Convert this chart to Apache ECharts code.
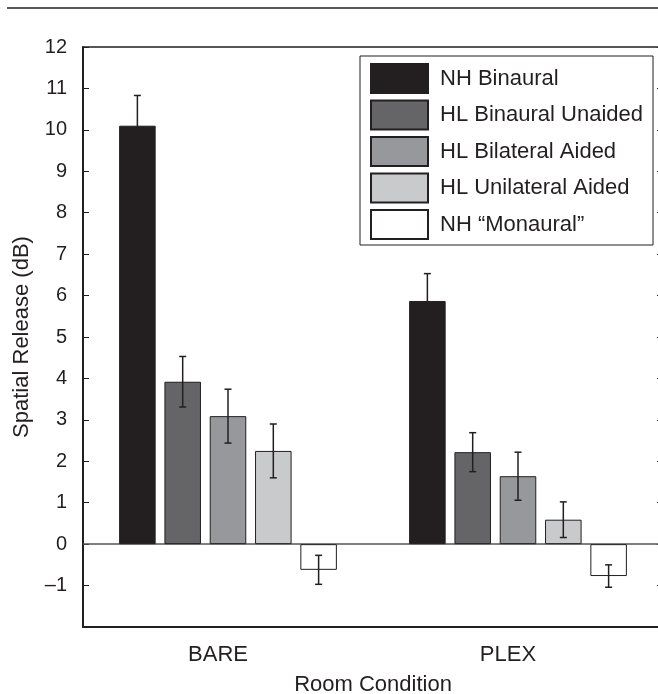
<!DOCTYPE html>
<html lang="en">
<head>
    <meta charset="UTF-8">
    <title>Spatial Release by Room Condition</title>
    <style>
        body {
            margin: 0;
            background-color: #fff;
        }
        #container {
            width: 658px;
            height: 694px;
        }
    </style>
    <script src="https://cdn.jsdelivr.net/npm/echarts@6.0.0/dist/echarts.min.js"></script>
</head>
<body>
    <div id="container"></div>
    <script>
        // data
        var rooms = ['BARE', 'PLEX'];
        var groupNames = ['NH Binaural', 'HL Binaural Unaided', 'HL Bilateral Aided', 'HL Unilateral Aided', 'NH \u201cMonaural\u201d'];
        var groupColors = ['#231f20', '#656567', '#97989b', '#c9cacc', '#ffffff'];
        var nhBinaural = [10.1, 5.87];
        var hlBinauralUnaided = [3.92, 2.22];
        var hlBilateralAided = [3.09, 1.64];
        var hlUnilateralAided = [2.25, 0.59];
        var nhMonaural = [-0.62, -0.77];
        var errNhBinaural = [0.73, 0.66];
        var errHlBinauralUnaided = [0.61, 0.47];
        var errHlBilateralAided = [0.65, 0.58];
        var errHlUnilateralAided = [0.65, 0.43];
        var errNhMonaural = [0.35, 0.27];
        var yTicks = [-2, 12, 1]; // min, max, step

        var means = [nhBinaural, hlBinauralUnaided, hlBilateralAided, hlUnilateralAided, nhMonaural];
        var errs = [errNhBinaural, errHlBinauralUnaided, errHlBilateralAided, errHlUnilateralAided, errNhMonaural];

        var barFrac = 0.126;   // bar width as part of a category band
        var gapFrac = 0.24;    // gap between bars as part of bar width
        var ink = '#231f20';
        var fontFam = '"Liberation Sans", Arial, Helvetica, sans-serif';

        var chart = echarts.init(document.getElementById('container'));

        var series = [];
        means.forEach(function (vals, i) {
            var s = {
                name: groupNames[i],
                type: 'bar',
                data: vals,
                barWidth: (barFrac * 100) + '%',
                barGap: (gapFrac * 100) + '%',
                itemStyle: { color: groupColors[i], borderColor: ink, borderWidth: 1 },
                emphasis: { disabled: true },
                z: 2
            };
            if (i === 0) {
                s.markLine = {
                    silent: true,
                    symbol: 'none',
                    label: { show: false },
                    lineStyle: { color: '#555', width: 1.5, type: 'solid' },
                    data: [{ yAxis: 0 }],
                    z: 1
                };
            }
            series.push(s);
        });

        // error bars
        means.forEach(function (vals, i) {
            var data = vals.map(function (v, k) { return [k, v - errs[i][k], v + errs[i][k]]; });
            series.push({
                type: 'custom',
                silent: true,
                z: 5,
                data: data,
                renderItem: function (params, api) {
                    var band = api.size([1, 0])[0];
                    var step = band * barFrac * (1 + gapFrac);
                    var lo = api.coord([api.value(0), api.value(1)]);
                    var hi = api.coord([api.value(0), api.value(2)]);
                    var x = lo[0] + (i - 2) * step;
                    var cap = 3.5;
                    var st = { stroke: ink, lineWidth: 1.5 };
                    return {
                        type: 'group',
                        children: [
                            { type: 'line', shape: { x1: x, y1: lo[1], x2: x, y2: hi[1] }, style: st },
                            { type: 'line', shape: { x1: x - cap, y1: lo[1], x2: x + cap, y2: lo[1] }, style: st },
                            { type: 'line', shape: { x1: x - cap, y1: hi[1], x2: x + cap, y2: hi[1] }, style: st }
                        ]
                    };
                }
            });
        });

        var option = {
            backgroundColor: '#fff',
            animation: false,
            textStyle: { fontFamily: fontFam, color: ink },
            grid: { left: 83, top: 47, width: 580, height: 580, outerBoundsMode: 'none', containLabel: false },
            legend: {
                data: groupNames,
                orient: 'vertical',
                left: 360,
                top: 56,
                padding: [7, 10, 5, 10],
                itemWidth: 57,
                itemHeight: 29,
                itemGap: 5.5,
                borderColor: ink,
                borderWidth: 1,
                backgroundColor: '#fff',
                icon: 'rect',
                selectedMode: false,
                textStyle: { fontSize: 22, lineHeight: 24, color: ink, fontFamily: fontFam, padding: [0, 0, 0, 7] }
            },
            xAxis: [
                {
                    type: 'category',
                    data: rooms,
                    position: 'bottom',
                    name: 'Room Condition',
                    nameLocation: 'middle',
                    nameGap: 47,
                    nameTextStyle: { fontSize: 22, color: ink },
                    axisLine: { onZero: false, lineStyle: { color: ink, width: 2 } },
                    axisTick: { inside: true, length: 6, alignWithLabel: true, lineStyle: { color: ink, width: 1 } },
                    axisLabel: { fontSize: 22, color: ink, margin: 17, padding: [0, 20, 0, 0] }
                },
                {
                    type: 'category',
                    data: rooms,
                    position: 'top',
                    axisLine: { onZero: false, lineStyle: { color: ink, width: 1.5 } },
                    axisTick: { inside: true, length: 6, alignWithLabel: true, lineStyle: { color: ink, width: 1 } },
                    axisLabel: { show: false }
                }
            ],
            yAxis: [
                {
                    type: 'value',
                    min: yTicks[0],
                    max: yTicks[1],
                    interval: yTicks[2],
                    position: 'left',
                    name: 'Spatial Release (dB)',
                    nameLocation: 'middle',
                    nameRotate: 90,
                    nameGap: 50,
                    nameTextStyle: { fontSize: 22, color: ink },
                    splitLine: { show: false },
                    axisLine: { show: true, lineStyle: { color: ink, width: 2 } },
                    axisTick: { show: true, inside: true, length: 6, lineStyle: { color: ink, width: 1 } },
                    axisLabel: {
                        fontSize: 20,
                        color: ink,
                        margin: 16,
                        formatter: function (v) {
                            if (v === yTicks[0]) return '';
                            return v < 0 ? '\u2013' + Math.abs(v) : String(v);
                        }
                    }
                },
                {
                    type: 'value',
                    min: yTicks[0],
                    max: yTicks[1],
                    interval: yTicks[2],
                    position: 'right',
                    splitLine: { show: false },
                    axisLine: { show: true, lineStyle: { color: ink, width: 1.5 } },
                    axisTick: { show: true, inside: true, length: 6, lineStyle: { color: ink, width: 1 } },
                    axisLabel: { show: false }
                }
            ],
            graphic: [
                {
                    type: 'line',
                    shape: { x1: 7, y1: 8, x2: 658, y2: 8 },
                    style: { stroke: ink, lineWidth: 1.5 }
                }
            ],
            series: series
        };

        chart.setOption(option);
    </script>
</body>
</html>
